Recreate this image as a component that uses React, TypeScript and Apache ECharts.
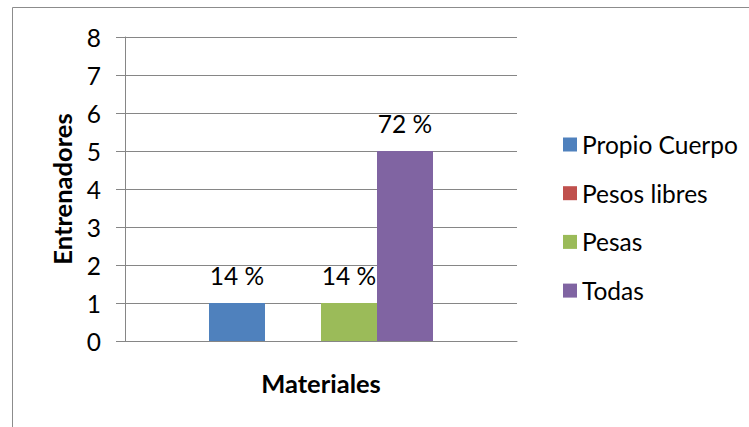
import React, { useEffect, useRef } from "react";
import * as echarts from "echarts";

const categories = ["Materiales"];
const seriesNames = ["Propio Cuerpo", "Pesos libres", "Pesas", "Todas"];
const seriesValues = [1, 0, 1, 5];
const seriesLabels = ["14 %", "", "14 %", "72 %"];
const seriesColors = ["#4F81BD", "#C0504D", "#9BBB59", "#8064A2"];
const yTicks = { min: 0, max: 8, interval: 1 };

const FONT = "Lato";
const FS = 24.5;

export default function App() {
  const ref = useRef<HTMLDivElement>(null);
  useEffect(() => {
    if (!ref.current) return;
    const chart = echarts.init(ref.current, null, { renderer: "svg" });
    chart.setOption({
      animation: false,
      backgroundColor: "#ffffff",
      textStyle: { fontFamily: FONT },
      graphic: [
        {
          type: "rect",
          shape: { x: 12.5, y: 7.5, width: 800, height: 500 },
          style: { fill: "none", stroke: "#8c8c8c", lineWidth: 1 },
          silent: true,
        },
      ],
      legend: {
        orient: "vertical",
        left: 558,
        top: 127,
        itemWidth: 14,
        itemHeight: 14,
        itemGap: 23.7,
        icon: "rect",
        textStyle: { fontFamily: FONT, fontSize: FS, color: "#000", lineHeight: 24, padding: [0, 0, 0, 0] },
        data: seriesNames,
      },
      grid: { left: 125, right: 232, top: 37, bottom: 86, containLabel: false },
      xAxis: {
        type: "category",
        data: categories,
        name: "Materiales",
        nameLocation: "middle",
        nameGap: 29,
        nameTextStyle: { fontFamily: FONT, fontSize: 25.5, fontWeight: "bold", color: "#000" },
        axisLine: { show: true, lineStyle: { color: "#868686", width: 1 } },
        axisTick: { show: false },
        axisLabel: { show: false },
      },
      yAxis: {
        type: "value",
        min: yTicks.min,
        max: yTicks.max,
        interval: yTicks.interval,
        name: "Entrenadores",
        nameLocation: "middle",
        nameGap: 50,
        nameTextStyle: { fontFamily: FONT, fontSize: 25.5, fontWeight: "bold", color: "#000" },
        axisLine: { show: true, lineStyle: { color: "#868686", width: 1 } },
        axisTick: { show: true, length: 9, inside: false, lineStyle: { color: "#868686" } },
        axisLabel: { fontFamily: FONT, fontSize: FS, color: "#000", margin: 24 },
        splitLine: { show: true, lineStyle: { color: "#868686", width: 1 } },
      },
      series: seriesNames.map((name, i) => ({
        name,
        type: "bar",
        data: [seriesValues[i]],
        barGap: "0%",
        barCategoryGap: "42.857%",
        itemStyle: { color: seriesColors[i] },
        label: {
          show: seriesLabels[i] !== "",
          position: "top",
          distance: 15,
          formatter: () => seriesLabels[i],
          fontFamily: FONT,
          fontSize: FS,
          color: "#000",
        },
      })),
    });
    return () => chart.dispose();
  }, []);
  return <div ref={ref} style={{ position: "absolute", left: 0, top: 0, width: 749, height: 427 }} />;
}
